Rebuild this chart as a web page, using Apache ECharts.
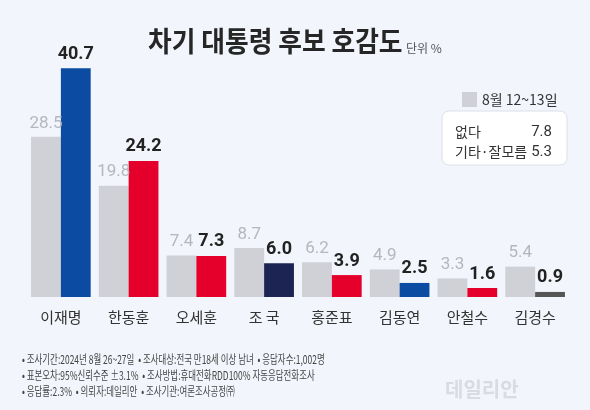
<!DOCTYPE html>
<html><head><meta charset="utf-8">
<script src="https://cdn.jsdelivr.net/npm/echarts@6/dist/echarts.min.js"></script>
<style>html,body{margin:0;padding:0;background:#f2f5fb}#c{width:590px;height:410px}</style>
</head><body><div id="c"></div>
<script>
const categories = ['이재명','한동훈','오세훈','조 국','홍준표','김동연','안철수','김경수'];
const prevValues = [28.5,19.8,7.4,8.7,6.2,4.9,3.3,5.4];
const currValues = [40.7,24.2,7.3,6.0,3.9,2.5,1.6,0.9];
const prevName = '8월 12~13일';
const currName = '8월 26~27일';
const otherLabels = ['없다','기타·잘모름'];
const otherValues = ['7.8','5.3'];
const currColors = ['#0b4ba1','#e4002b','#e4002b','#1b2452','#e4002b','#0b4ba1','#e4002b','#555555'];
const notes = [
  '• 조사기간:2024년 8월 26~27일  • 조사대상:전국 만18세 이상 남녀  • 응답자수:1,002명',
  '• 표본오차:95%신뢰수준 ±3.1%  • 조사방법:휴대전화RDD100% 자동응답전화조사',
  '• 응답률:2.3%  • 의뢰자:데일리안  • 조사기관:여론조사공정㈜'
];
const FONT = '"Noto Sans CJK KR", "Noto Sans", sans-serif';

const chart = echarts.init(document.getElementById('c'));
const graphics = [
  {type:'text', x:148, y:41, scaleX:0.92, style:{text:'차기 대통령 후보 호감도', font:'bold 28px ' + FONT, fill:'#262626', verticalAlign:'middle'}},
  {type:'text', x:406, y:48, style:{text:'단위 %', font:'12px ' + FONT, fill:'#555', verticalAlign:'middle'}},
  {type:'rect', shape:{x:442, y:111, width:125, height:54, r:7}, style:{fill:'#ffffff', stroke:'#dde0e6', lineWidth:1}},
  {type:'text', x:445, y:389, style:{text:'데일리안', font:'bold 20px ' + FONT, fill:'#d9dbe0', verticalAlign:'middle'}}
];
otherLabels.forEach((t,i)=>{
  graphics.push({type:'text', x:455, y:132 + i*20, style:{text:t, font:'14px ' + FONT, fill:'#333', verticalAlign:'middle'}});
  graphics.push({type:'text', x:552, y:132 + i*20, style:{text:otherValues[i], font:'15px Roboto, sans-serif', fill:'#333', align:'right', verticalAlign:'middle'}});
});
notes.forEach((t,i)=>{
  graphics.push({type:'text', x:22, y:359 + i*16, scaleX:0.705, style:{text:t, font:'12px ' + FONT, fill:'#444', verticalAlign:'middle'}});
});

chart.setOption({
  backgroundColor:'#f2f5fb',
  animation:false,
  legend:{data:[prevName], left:457, top:87, icon:'rect', itemWidth:15, itemHeight:15, itemGap:6,
    textStyle:{fontSize:14, color:'#333', fontFamily:FONT}},
  grid:{left:27, right:21, top:16, bottom:113},
  xAxis:{type:'category', data:categories, axisLine:{show:false}, axisTick:{show:false},
    axisLabel:{fontSize:15, color:'#333', margin:13, fontFamily:FONT}},
  yAxis:{type:'value', min:0, max:50, show:false, splitLine:{show:false}},
  series:[
    {name:prevName, type:'bar', data:prevValues, barGap:'0%', barCategoryGap:'12%',
      itemStyle:{color:'#cfd1d7'},
      label:{show:true, position:'top', distance:5, fontSize:17, color:'#b4b7be', fontFamily:'Roboto, sans-serif', formatter:p=>p.value.toFixed(1)}},
    {name:currName, type:'bar', data:currValues.map((v,i)=>({value:v, itemStyle:{color:currColors[i]}})),
      label:{show:true, position:'top', distance:5, fontSize:18, fontWeight:'bold', color:'#222', fontFamily:'Roboto, sans-serif', formatter:p=>p.value.toFixed(1)}}
  ],
  graphic:graphics
});
</script></body></html>
